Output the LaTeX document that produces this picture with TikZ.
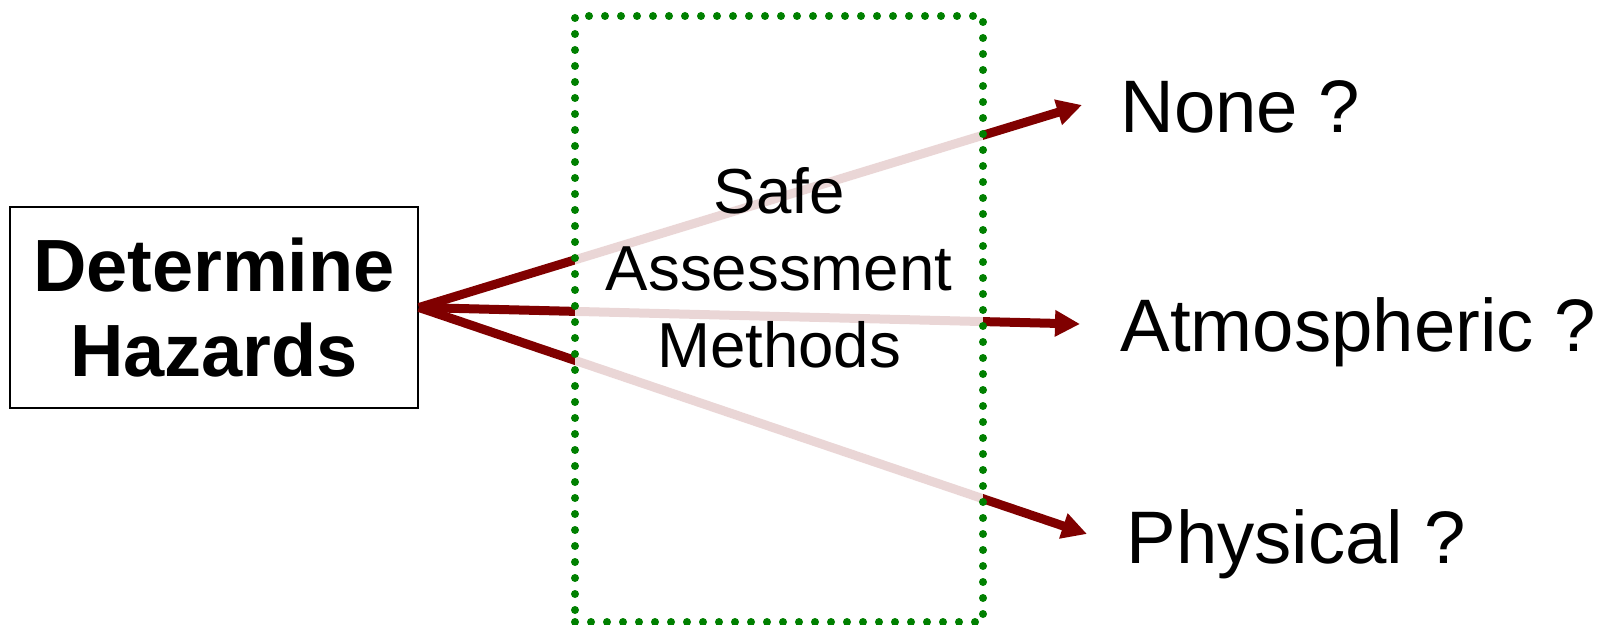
\documentclass[tikz,border=0pt]{standalone}
\usepackage{fontspec}
\setmainfont{Liberation Sans}
\usetikzlibrary{arrows.meta}

\definecolor{darkred}{RGB}{128,0,0}
\definecolor{darkgreen}{RGB}{0,128,0}

\begin{document}
\begin{tikzpicture}
    [x=0.5pt,y=-0.5pt,
     hazard/.style={draw=black,line width=1pt,minimum width=204pt,minimum height=100.5pt,
       align=center,inner sep=0pt,font=\fontsize{37}{42.5}\selectfont\bfseries},
     outcome/.style={anchor=base west,inner sep=0pt,font=\fontsize{37.2}{44}\selectfont},
     methods/.style={align=center,inner sep=0pt,font=\fontsize{31.8}{38.5}\selectfont},
     sambox/.style={draw=darkgreen,line width=4pt,dash pattern=on 0pt off 8pt,line cap=round,
       fill=white,fill opacity=0.84,minimum width=204pt,minimum height=303pt,inner sep=0pt},
     fork/.style={-{Triangle[length=12.5pt,width=12.5pt]},draw=darkred,line width=4.5pt}]
    \useasboundingbox (0,0) rectangle (1599,625);
    \node [hazard] (hazards) at (214,307.5) {Determine\\Hazards};
    % arrow ends, just short of the answers
    \coordinate (none end) at (1082,105);
    \coordinate (atmo end) at (1080,324);
    \coordinate (phys end) at (1087,534);
    \draw [fork] (hazards.east) -- (none end);
    \draw [fork] (hazards.east) -- (atmo end);
    \draw [fork] (hazards.east) -- (phys end);
    % the dotted box washes out the arrows behind it
    \node [sambox] (box) at (779,319) {};
    \node [methods] (safe) at (779,268) {Safe\\Assessment\\Methods};
    \node [outcome] (none) at (1120,133) {None ?};
    \node [outcome] (atmo) at (1120,351) {Atmospheric ?};
    \node [outcome] (phys) at (1126,563) {Physical ?};
  \end{tikzpicture}
\end{document}
